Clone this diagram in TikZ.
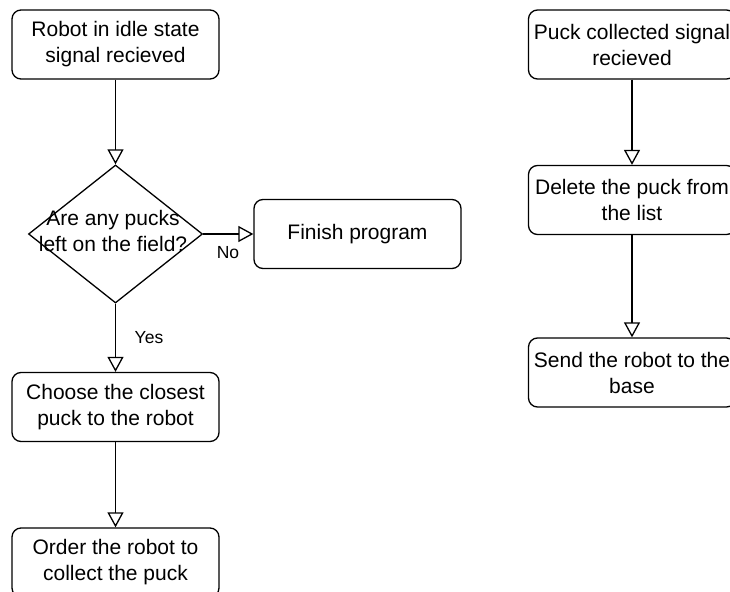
\documentclass[tikz,border=0pt]{standalone}
\usepackage{fontspec}
\setmainfont{Liberation Sans}
\usetikzlibrary{shapes.geometric,arrows.meta}
\begin{document}
\begin{tikzpicture}[x=1pt,y=-1pt,
  box/.style={draw, line width=1.3pt, rounded corners=9pt, minimum width=207pt, minimum height=69pt, inner sep=0pt, align=center, font=\fontsize{21}{26}\selectfont},
  txt/.style={align=center, inner sep=0pt, font=\fontsize{21}{26}\selectfont},
  lbl/.style={inner sep=0pt, font=\fontsize{17.5}{20}\selectfont},
  dia/.style={draw, line width=1.3pt, diamond, minimum width=174pt, minimum height=138pt, inner sep=0pt},
  conn/.style={draw, line width=1.3pt, -{Triangle[open, length=15pt, width=16pt]}}
]
\useasboundingbox (0,0) rectangle (730,591);
\clip (0,0) rectangle (730,591);
\node[box] (idle) at (115.5,44.5) {Robot in idle state\\signal recieved};
\node[dia] (q) at (115.5,234) {};
\node[txt] (qt) at (113,231) {Are any pucks\\left on the field?};
\node[box] (fin) at (357.5,234) {Finish program};
\node[box] (choose) at (115.5,407) {Choose the closest\\puck to the robot};
\node[box] (order) at (115.5,562.5) {Order the robot to\\collect the puck};
\node[box] (pc) at (632,44.5) {Puck collected signal\\recieved};
\node[box] (del) at (632,200) {Delete the puck from\\the list};
\node[box] (send) at (632,372.5) {Send the robot to the\\base};
\node[lbl] (no) at (228,253) {No};
\node[lbl] (yes) at (149,338) {Yes};
\draw[conn] (idle.south) -- (q.north);
\draw[conn] (q.east) -- (fin.west);
\draw[conn] (q.south) -- (choose.north);
\draw[conn] (choose.south) -- (order.north);
\draw[conn] (pc.south) -- (del.north);
\draw[conn] (del.south) -- (send.north);
\end{tikzpicture}
\end{document}
